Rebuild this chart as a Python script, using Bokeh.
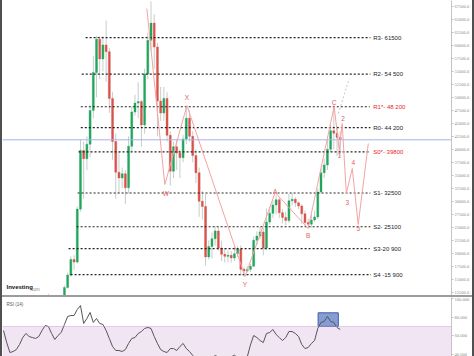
from bokeh.plotting import figure
from bokeh.layouts import column, row
from bokeh.models import (Range1d, LinearAxis, FixedTicker, NumeralTickFormatter,
                          Span, BoxAnnotation, Div, ColumnDataSource)
from bokeh.core.properties import value
from bokeh.embed import file_html
from bokeh.resources import INLINE

# ---------------- data (weekly candles) ----------------
first_open = 7000
closes = [7200, 8100, 8900, 9700, 8800, 5400, 6400, 6900, 7200, 8700,
          9500, 9700, 9300, 9200, 9700, 11100, 11400, 11300, 11500, 13400,
          15800, 18800, 18300, 28500, 39800, 38200, 41000, 47500, 54800, 61200,
          57400, 60100, 58800, 49800, 41500, 35600, 34500, 35300, 32600, 40600,
          47200, 48900, 49200, 44700, 54500, 61000, 64300, 59700, 49300, 47000,
          49800, 42700, 35800, 40500, 39300, 38400, 42000, 46000, 42500, 38800,
          35500, 30000, 29000, 19300, 21300, 22800, 24300, 21000, 19800, 19400,
          19600, 19100, 19900, 20800, 16900, 16600, 16900, 17500, 22500, 23300,
          24100, 21000, 26000, 27700, 29300, 30300, 27800, 26900, 26300, 30100,
          30400, 29700, 29100, 27600, 25900, 25600, 26400, 27000, 31800, 35500,
          37000, 40000, 43600, 43100, 42300, 41900]
highs = [7600, 8400, 9200, 10100, 9900, 9100, 6900, 7300, 7500, 9000,
         10000, 10000, 10000, 9600, 12200, 11500, 11600, 11600, 11600, 13800,
         16300, 19400, 19600, 29000, 41900, 41500, 42500, 48500, 58000, 61800,
         61700, 61800, 64800, 59500, 51000, 43000, 39500, 36500, 36000, 42500,
         48200, 50500, 52900, 49500, 55500, 62500, 68500, 66000, 60500, 52000,
         52000, 51000, 43500, 41500, 41800, 40000, 42800, 48000, 47500, 43500,
         40000, 36500, 32000, 31500, 22500, 24000, 25200, 25000, 22400, 21000,
         20500, 20400, 21500, 21400, 21500, 17400, 17600, 18000, 23200, 24200,
         25200, 25000, 28600, 29000, 30200, 31100, 30800, 28500, 28000, 31400,
         31700, 30800, 30000, 29400, 28200, 26600, 27500, 28200, 32500, 36300,
         38200, 41800, 44800, 48500, 44500, 43500]
lows = [6800, 7100, 8000, 8600, 8500, 4800, 5300, 6200, 6700, 7000,
        8500, 9000, 9000, 8900, 9100, 9600, 10800, 10600, 10200, 11300,
        13200, 15500, 16800, 18000, 28000, 30500, 36000, 38500, 46000, 50000,
        53500, 55000, 53000, 47000, 38000, 30500, 31500, 32500, 29500, 31500,
        39500, 46500, 46000, 40500, 43000, 53500, 59000, 55500, 42500, 45500,
        45500, 41500, 33000, 34500, 36000, 34500, 37500, 41000, 41500, 37500,
        33500, 27000, 26500, 17600, 18800, 19000, 21500, 20500, 18500, 18200,
        18300, 18200, 18500, 19300, 15700, 15500, 16300, 16400, 17300, 21600,
        22700, 19600, 20600, 25500, 26800, 27500, 26800, 25800, 25400, 25800,
        29200, 28900, 28500, 25700, 25200, 24900, 25000, 26000, 26600, 31500,
        34500, 36000, 39500, 40000, 38700, 38500]
rsi = [65.6, 52.6, 41.8, 42.9, 45, 50.5, 58, 62.4, 59.1, 58,
       57, 59.1, 65.6, 71, 70, 62.4, 55.9, 60.2, 63.5, 72.1,
       80.8, 81.8, 81.8, 88.3, 92.6, 73.2, 78.6, 85.1, 74.3, 78.6,
       73.2, 72.1, 65.6, 57, 48.3, 44, 44, 42.9, 45, 51.6,
       57, 58, 62.4, 64.5, 67.8, 68.9, 67.8, 59.1, 51.6, 45,
       42.9, 41.8, 46.1, 46.1, 44, 48.3, 51.6, 46.1, 42.9, 38.6,
       35, 33, 32, 30, 34, 36, 38.5, 37, 35, 34,
       35, 37, 39, 36, 33, 34, 37, 50, 60.2, 58,
       54.8, 52.6, 62.4, 63.5, 66.7, 61.3, 58, 54.8, 58, 64.5,
       64.5, 62.4, 59.1, 50.5, 46.1, 47.2, 51.6, 54.8, 67.8, 74.3,
       75.4, 80.8, 75.4, 74.3, 68.9, 66.7]

current_price = 41840
price_ticks = [12500, 15000, 17500, 20000, 22500, 25000, 27500, 30000, 32500,
               35000, 37500, 40000, 42500, 45000, 47500, 50000, 52500, 55000,
               57500, 60000, 62500, 65000, 67500]
rsi_ticks = [40, 60, 80, 100]
rsi_overbought = 70

level_names = ["R3- 61500", "R2- 54 500", "R1*- 48 200", "R0- 44 200", "S0*- 39800",
               "S1- 32500", "S2- 25100", "S3-20 900", "S4 -15 900"]
level_values = [61500, 54500, 48200, 44200, 39500, 31600, 25100, 20900, 15900]
level_start = [25.6, 24.4, 24.1, 24.1, 23.4, 23.1, 22.8, 20.3, 20.9]
level_end = [114.4, 114.4, 114.2, 114.4, 114.2, 114.4, 114.4, 114.2, 114.6]
level_label_x = [115.3] * 9
level_is_key = [False, False, True, False, True, False, False, False, False]

wave_x = [44.7, 50.3, 57.2, 75.3, 84.7, 95.0, 103.1, 104.7, 105.6, 106.9, 108.75, 110.6, 113.75]
wave_y = [67100, 33240, 48440, 15525, 31700, 24760, 48250, 39780, 44980, 31500, 36315, 25535, 41130]
wave_names = ["W", "X", "Y", "A", "B", "C", "1", "2", "3", "4", "5"]
wave_label_x = [50.6, 57.2, 75.3, 84.7, 95.0, 103.1, 104.7, 105.9, 107.2, 109.1, 110.6]
wave_label_y = [31500, 50000, 13985, 31890, 23420, 49020, 38820, 45940, 29770, 37470, 24760]
proj_x = [104.4, 107.8]
proj_y = [46900, 53640]
rsi_box = dict(left=[98.1], right=[104.4], bottom=[70], top=[84.75])

# ---------------- derived ----------------
opens = [first_open] + closes[:-1]
idx = list(range(len(closes)))
colors = ["#22a65e" if c >= o else "#d9534a" for o, c in zip(opens, closes)]
src = ColumnDataSource(dict(x=idx, o=opens, c=closes, h=highs, l=lows, col=colors))

SANS = value("Liberation Sans")
AXF = "Liberation Serif"
FW = 470  # figure width between the two dark edge strips
XR = Range1d(-0.3125, 139.69)

def make_axis(ticks, fmt):
    return LinearAxis(ticker=FixedTicker(ticks=ticks), formatter=NumeralTickFormatter(format=fmt),
                      major_label_text_font_size="4.5px", major_label_text_color="#8c8c8c",
                      major_label_text_font=AXF, axis_line_color="#c4c4c4",
                      major_tick_line_color="#c4c4c4", major_tick_out=2, major_tick_in=0,
                      minor_tick_line_color=None, major_label_standoff=1)

p = figure(width=FW, height=295, x_range=XR, y_range=Range1d(11867, 68655),
           output_backend="svg", toolbar_location=None, x_axis_location=None,
           y_axis_location=None, min_border_left=0, min_border_right=0,
           min_border_top=0, min_border_bottom=0, outline_line_color=None,
           background_fill_color="white", border_fill_color="white")
p.grid.visible = False
p.add_layout(make_axis(price_ticks, "0.0"), "right")

p.add_layout(Span(location=current_price, dimension="width", line_color="#a9b3ec", line_width=1))

p.segment(x0="x", y0="h", x1="x", y1="l", source=src, line_color="#c6cdca", line_width=1)
p.vbar(x="x", width=0.62, top="o", bottom="c", source=src, fill_color="col",
       line_color="col", line_width=0.4)

p.segment(x0=level_start, y0=level_values, x1=level_end, y1=level_values,
          line_color="#222222", line_width=1.2, line_dash="2 2")
p.text(x=level_label_x, y=level_values, text=level_names,
       text_color=["#e8262c" if k else "#222222" for k in level_is_key],
       text_font=SANS, text_font_size="6px", text_baseline="middle", text_align="left")

p.line(wave_x, wave_y, line_color="#f4a3a3", line_width=1)
p.line(proj_x, proj_y, line_color="#c8c8c8", line_width=1, line_dash="2 2")
p.text(x=wave_label_x, y=wave_label_y, text=wave_names, text_color="#e26262",
       text_font=SANS, text_font_size="6.5px", text_baseline="middle", text_align="center")

p.text(x=[0.94], y=[13410], text=["Investing"], text_color="#111111", text_font=SANS,
       text_font_style="bold", text_font_size="6px", text_baseline="middle", text_align="left")
p.text(x=[8.3], y=[13100], text=[".com"], text_color="#8a8a8a", text_font=SANS,
       text_font_size="4.5px", text_baseline="middle", text_align="left")

sep = Div(width=FW, height=2, margin=0, styles={"background-color": "#9c9c9c"})

r = figure(width=FW, height=59, x_range=XR, y_range=Range1d(37.5, 101.3),
           output_backend="svg", toolbar_location=None, x_axis_location=None,
           y_axis_location=None, min_border_left=0, min_border_right=0,
           min_border_top=0, min_border_bottom=0, outline_line_color=None,
           background_fill_color="white", border_fill_color="white")
r.grid.visible = False
r.add_layout(make_axis(rsi_ticks, "0.000"), "right")
r.add_layout(BoxAnnotation(top=rsi_overbought, fill_color="#f1e5f3", fill_alpha=1,
                           line_color=None, level="underlay"))
r.add_layout(Span(location=rsi_overbought, dimension="width", line_color="#c99fcc",
                  line_width=1, line_dash="1 1"))
r.quad(source=ColumnDataSource(rsi_box), left="left", right="right", bottom="bottom", top="top",
       fill_color="#6884c9", fill_alpha=0.8, line_color="#3f5ca8", line_width=1)
r.line(idx, rsi, line_color="#555555", line_width=1)
r.text(x=[0.94], y=[93.7], text=["RSI (14)"], text_color="#555555", text_font=SANS,
       text_font_size="4.5px", text_baseline="middle", text_align="left")

edge_l = Div(width=2, height=356, margin=0, styles={"background-color": "#505050"})
edge_r = Div(width=2, height=356, margin=0, styles={"background-color": "#505050"})
layout = row(edge_l, column(p, sep, r, spacing=0), edge_r, spacing=0)
open("out.html", "w").write(file_html(layout, INLINE))
